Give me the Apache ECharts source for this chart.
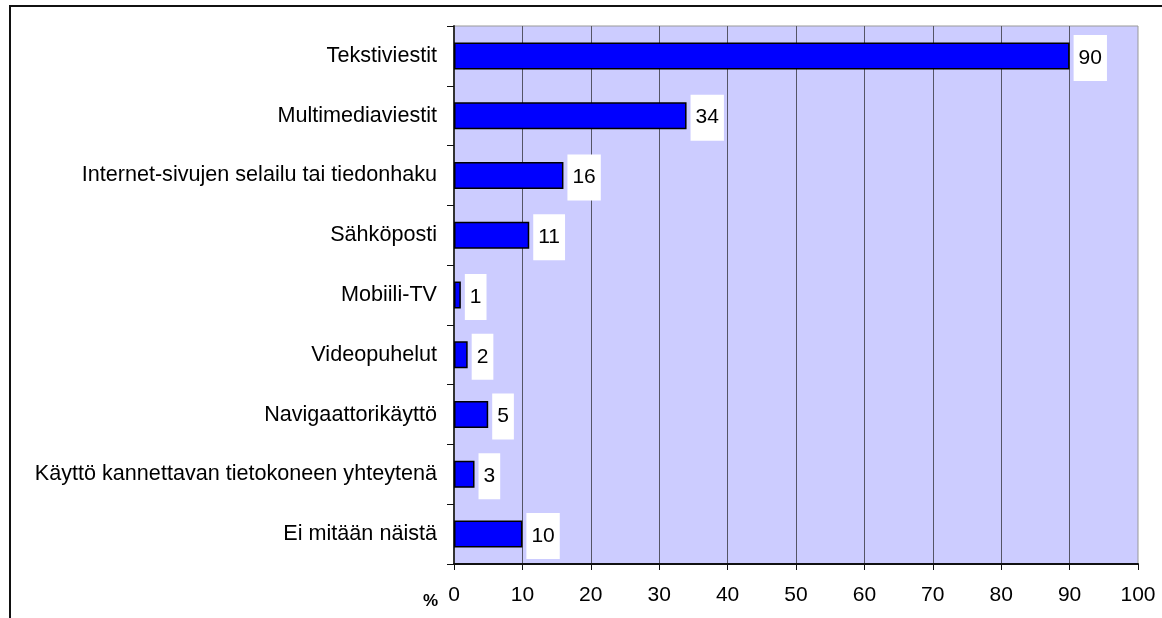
<!DOCTYPE html>
<html>
<head>
<meta charset="utf-8">
<script src="https://cdn.jsdelivr.net/npm/echarts@6/dist/echarts.min.js"></script>
<style>
  html, body { margin: 0; padding: 0; background: #ffffff; }
  #chart { width: 1162px; height: 618px; }
</style>
</head>
<body>
<div id="chart"></div>
<script>
// Mobile phone features used (%)
const categories = [
  'Tekstiviestit',
  'Multimediaviestit',
  'Internet-sivujen selailu tai tiedonhaku',
  'Sähköposti',
  'Mobiili-TV',
  'Videopuhelut',
  'Navigaattorikäyttö',
  'Käyttö kannettavan tietokoneen yhteytenä',
  'Ei mitään näistä'
];
const values = [90, 34, 16, 11, 1, 2, 5, 3, 10];
const axisUnit = '%';

const FONT = "'Liberation Sans', Arial, sans-serif";

const chart = echarts.init(document.getElementById('chart'), null, { renderer: 'canvas' });

chart.setOption({
  backgroundColor: '#ffffff',
  animation: false,
  grid: {
    left: 454, right: 24, top: 26, bottom: 54,
    show: true,
    backgroundColor: '#ccccff',
    borderColor: '#999999',
    borderWidth: 1
  },
  xAxis: {
    type: 'value',
    min: 0, max: 100, interval: 10,
    axisLine: { show: true, lineStyle: { color: '#111111', width: 2 } },
    axisTick: { show: true, length: 6, lineStyle: { color: '#111111', width: 1 } },
    axisLabel: { color: '#000000', fontFamily: FONT, fontSize: 21, margin: 21 },
    splitLine: { show: true, showMinLine: false, showMaxLine: false, lineStyle: { color: '#555566', width: 1 } }
  },
  yAxis: {
    type: 'category',
    data: categories,
    inverse: true,
    axisLine: { show: true, lineStyle: { color: '#333333', width: 2 } },
    axisTick: { show: true, length: 7, inside: false, lineStyle: { color: '#111111', width: 1 } },
    axisLabel: { color: '#000000', fontFamily: FONT, fontSize: 21.6, margin: 17 },
    splitLine: { show: false }
  },
  series: [{
    type: 'bar',
    data: values,
    barWidth: 27,
    itemStyle: { color: '#0000ff', borderColor: '#000000', borderWidth: 1.5 },
    label: {
      show: true,
      position: 'right',
      distance: 4,
      offset: [0, 2],
      color: '#000000',
      fontFamily: FONT,
      fontSize: 21,
      lineHeight: 24,
      backgroundColor: '#ffffff',
      padding: [8, 5, 14, 5]
    }
  }],
  graphic: [
    {
      type: 'polyline',
      shape: { points: [[10, 618], [10, 6], [1162, 6]] },
      style: { stroke: '#111111', lineWidth: 2, fill: null },
      silent: true
    },
    {
      type: 'text',
      left: 423,
      top: 593,
      style: { text: axisUnit, fontFamily: FONT, fontSize: 17, fontWeight: 'bold', fill: '#000000' }
    }
  ]
});
</script>
</body>
</html>
